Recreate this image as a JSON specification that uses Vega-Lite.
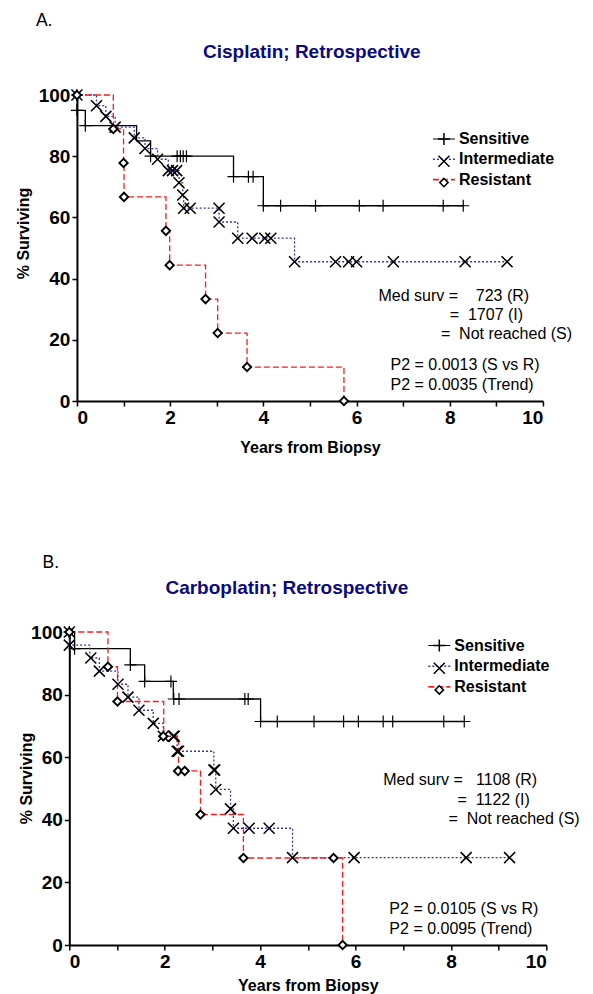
{
  "$schema": "https://vega.github.io/schema/vega-lite/v6.json",
  "background": "white",
  "padding": {"left": 15, "top": 11, "right": 5, "bottom": 2},
  "config": {
    "view": {"stroke": null},
    "font": "Liberation Sans",
    "axis": {"labelFont": "Liberation Sans", "labelFontSize": 19, "labelFontWeight": "bold", "labelColor": "black", "labelOverlap": false, "titleFont": "Liberation Sans", "titleFontSize": 16, "titleFontWeight": "bold", "titleColor": "black", "domainColor": "black", "domainWidth": 2, "tickColor": "black", "tickWidth": 1.5, "tickSize": 5, "labelPadding": 2, "grid": false}
  },
  "columns": 1,
  "spacing": 98,
  "center": true,
  "resolve": {"scale": {"color": "independent", "shape": "independent", "strokeDash": "independent", "strokeWidth": "independent"}, "legend": {"color": "independent", "shape": "independent", "strokeDash": "independent"}},
  "datasets": {
    "curvesA": [
      {"g": "Sensitive", "t": 0, "s": 100}, {"g": "Sensitive", "t": 0.01, "s": 95}, {"g": "Sensitive", "t": 0.18, "s": 90}, {"g": "Sensitive", "t": 1.28, "s": 85}, {"g": "Sensitive", "t": 1.58, "s": 80}, {"g": "Sensitive", "t": 3.36, "s": 73.3}, {"g": "Sensitive", "t": 4.0, "s": 63.8}, {"g": "Sensitive", "t": 8.29, "s": 63.8},
      {"g": "Intermediate", "t": 0, "s": 100}, {"g": "Intermediate", "t": 0.42, "s": 96.5}, {"g": "Intermediate", "t": 0.62, "s": 93}, {"g": "Intermediate", "t": 0.82, "s": 89.5}, {"g": "Intermediate", "t": 1.23, "s": 86}, {"g": "Intermediate", "t": 1.46, "s": 82.5}, {"g": "Intermediate", "t": 1.73, "s": 79}, {"g": "Intermediate", "t": 1.96, "s": 75.3}, {"g": "Intermediate", "t": 2.19, "s": 71.3}, {"g": "Intermediate", "t": 2.27, "s": 67.3}, {"g": "Intermediate", "t": 2.29, "s": 63}, {"g": "Intermediate", "t": 3.05, "s": 58.5}, {"g": "Intermediate", "t": 3.45, "s": 53.2}, {"g": "Intermediate", "t": 4.67, "s": 45.5}, {"g": "Intermediate", "t": 9.23, "s": 45.5},
      {"g": "Resistant", "t": 0, "s": 100}, {"g": "Resistant", "t": 0.78, "s": 88.9}, {"g": "Resistant", "t": 1.0, "s": 77.8}, {"g": "Resistant", "t": 1.01, "s": 66.7}, {"g": "Resistant", "t": 1.91, "s": 55.6}, {"g": "Resistant", "t": 1.99, "s": 44.4}, {"g": "Resistant", "t": 2.76, "s": 33.3}, {"g": "Resistant", "t": 3.02, "s": 22.2}, {"g": "Resistant", "t": 3.65, "s": 11.1}, {"g": "Resistant", "t": 5.73, "s": 0}
    ],
    "marksA": [
      {"g": "Sensitive", "t": 0, "s": 100}, {"g": "Sensitive", "t": 0, "s": 95}, {"g": "Sensitive", "t": 0.18, "s": 90}, {"g": "Sensitive", "t": 1.58, "s": 80}, {"g": "Sensitive", "t": 2.15, "s": 80}, {"g": "Sensitive", "t": 2.22, "s": 80}, {"g": "Sensitive", "t": 2.28, "s": 80}, {"g": "Sensitive", "t": 2.35, "s": 80}, {"g": "Sensitive", "t": 3.36, "s": 73.3}, {"g": "Sensitive", "t": 3.68, "s": 73.3}, {"g": "Sensitive", "t": 3.78, "s": 73.3}, {"g": "Sensitive", "t": 4.0, "s": 63.8}, {"g": "Sensitive", "t": 4.37, "s": 63.8}, {"g": "Sensitive", "t": 5.12, "s": 63.8}, {"g": "Sensitive", "t": 6.06, "s": 63.8}, {"g": "Sensitive", "t": 6.57, "s": 63.8}, {"g": "Sensitive", "t": 7.86, "s": 63.8}, {"g": "Sensitive", "t": 8.29, "s": 63.8},
      {"g": "Intermediate", "t": 0, "s": 100}, {"g": "Intermediate", "t": 0.42, "s": 96.5}, {"g": "Intermediate", "t": 0.62, "s": 93}, {"g": "Intermediate", "t": 0.82, "s": 89.5}, {"g": "Intermediate", "t": 1.23, "s": 86}, {"g": "Intermediate", "t": 1.46, "s": 82.5}, {"g": "Intermediate", "t": 1.73, "s": 79}, {"g": "Intermediate", "t": 1.96, "s": 75.3}, {"g": "Intermediate", "t": 2.05, "s": 75.3}, {"g": "Intermediate", "t": 2.14, "s": 75.3}, {"g": "Intermediate", "t": 2.19, "s": 71.3}, {"g": "Intermediate", "t": 2.27, "s": 67.3}, {"g": "Intermediate", "t": 2.29, "s": 63}, {"g": "Intermediate", "t": 2.43, "s": 63}, {"g": "Intermediate", "t": 3.05, "s": 63}, {"g": "Intermediate", "t": 3.05, "s": 58.5}, {"g": "Intermediate", "t": 3.45, "s": 53.2}, {"g": "Intermediate", "t": 3.76, "s": 53.2}, {"g": "Intermediate", "t": 4.03, "s": 53.2}, {"g": "Intermediate", "t": 4.16, "s": 53.2}, {"g": "Intermediate", "t": 4.67, "s": 45.5}, {"g": "Intermediate", "t": 5.55, "s": 45.5}, {"g": "Intermediate", "t": 5.83, "s": 45.5}, {"g": "Intermediate", "t": 6.0, "s": 45.5}, {"g": "Intermediate", "t": 6.79, "s": 45.5}, {"g": "Intermediate", "t": 8.33, "s": 45.5}, {"g": "Intermediate", "t": 9.23, "s": 45.5},
      {"g": "Resistant", "t": 0, "s": 100}, {"g": "Resistant", "t": 0.78, "s": 88.9}, {"g": "Resistant", "t": 1.0, "s": 77.8}, {"g": "Resistant", "t": 1.01, "s": 66.7}, {"g": "Resistant", "t": 1.91, "s": 55.6}, {"g": "Resistant", "t": 1.99, "s": 44.4}, {"g": "Resistant", "t": 2.76, "s": 33.3}, {"g": "Resistant", "t": 3.02, "s": 22.2}, {"g": "Resistant", "t": 3.65, "s": 11.1}, {"g": "Resistant", "t": 5.73, "s": 0}
    ],
    "curvesB": [
      {"g": "Sensitive", "t": 0, "s": 100}, {"g": "Sensitive", "t": 0.11, "s": 94.7}, {"g": "Sensitive", "t": 1.28, "s": 89.5}, {"g": "Sensitive", "t": 1.58, "s": 84.2}, {"g": "Sensitive", "t": 2.18, "s": 78.6}, {"g": "Sensitive", "t": 4.01, "s": 71.4}, {"g": "Sensitive", "t": 8.28, "s": 71.4},
      {"g": "Intermediate", "t": 0, "s": 100}, {"g": "Intermediate", "t": 0.01, "s": 95.8}, {"g": "Intermediate", "t": 0.43, "s": 91.7}, {"g": "Intermediate", "t": 0.63, "s": 87.5}, {"g": "Intermediate", "t": 1.02, "s": 83.3}, {"g": "Intermediate", "t": 1.23, "s": 79.2}, {"g": "Intermediate", "t": 1.46, "s": 75}, {"g": "Intermediate", "t": 1.76, "s": 70.8}, {"g": "Intermediate", "t": 1.97, "s": 66.7}, {"g": "Intermediate", "t": 2.26, "s": 61.9}, {"g": "Intermediate", "t": 3.03, "s": 55.9}, {"g": "Intermediate", "t": 3.07, "s": 49.7}, {"g": "Intermediate", "t": 3.38, "s": 43.5}, {"g": "Intermediate", "t": 3.44, "s": 37.3}, {"g": "Intermediate", "t": 4.68, "s": 27.9}, {"g": "Intermediate", "t": 9.23, "s": 27.9},
      {"g": "Resistant", "t": 0, "s": 100}, {"g": "Resistant", "t": 0.81, "s": 88.9}, {"g": "Resistant", "t": 1.01, "s": 77.8}, {"g": "Resistant", "t": 1.98, "s": 66.7}, {"g": "Resistant", "t": 2.29, "s": 55.6}, {"g": "Resistant", "t": 2.75, "s": 41.7}, {"g": "Resistant", "t": 3.65, "s": 27.8}, {"g": "Resistant", "t": 5.73, "s": 0}
    ],
    "marksB": [
      {"g": "Sensitive", "t": 0, "s": 100}, {"g": "Sensitive", "t": 0.11, "s": 94.7}, {"g": "Sensitive", "t": 1.28, "s": 89.5}, {"g": "Sensitive", "t": 1.58, "s": 84.2}, {"g": "Sensitive", "t": 2.13, "s": 84.2}, {"g": "Sensitive", "t": 2.19, "s": 78.6}, {"g": "Sensitive", "t": 2.3, "s": 78.6}, {"g": "Sensitive", "t": 3.68, "s": 78.6}, {"g": "Sensitive", "t": 3.75, "s": 78.6}, {"g": "Sensitive", "t": 4.01, "s": 71.4}, {"g": "Sensitive", "t": 4.36, "s": 71.4}, {"g": "Sensitive", "t": 5.13, "s": 71.4}, {"g": "Sensitive", "t": 5.75, "s": 71.4}, {"g": "Sensitive", "t": 6.06, "s": 71.4}, {"g": "Sensitive", "t": 6.58, "s": 71.4}, {"g": "Sensitive", "t": 6.78, "s": 71.4}, {"g": "Sensitive", "t": 7.85, "s": 71.4}, {"g": "Sensitive", "t": 8.28, "s": 71.4},
      {"g": "Intermediate", "t": 0, "s": 100}, {"g": "Intermediate", "t": 0, "s": 95.8}, {"g": "Intermediate", "t": 0.45, "s": 91.7}, {"g": "Intermediate", "t": 0.63, "s": 87.5}, {"g": "Intermediate", "t": 1.02, "s": 83.3}, {"g": "Intermediate", "t": 1.23, "s": 79.2}, {"g": "Intermediate", "t": 1.46, "s": 75}, {"g": "Intermediate", "t": 1.76, "s": 70.8}, {"g": "Intermediate", "t": 1.97, "s": 66.7}, {"g": "Intermediate", "t": 2.18, "s": 66.7}, {"g": "Intermediate", "t": 2.2, "s": 66.7}, {"g": "Intermediate", "t": 2.26, "s": 61.9}, {"g": "Intermediate", "t": 2.29, "s": 61.9}, {"g": "Intermediate", "t": 3.03, "s": 55.9}, {"g": "Intermediate", "t": 3.05, "s": 55.9}, {"g": "Intermediate", "t": 3.07, "s": 49.7}, {"g": "Intermediate", "t": 3.38, "s": 43.5}, {"g": "Intermediate", "t": 3.44, "s": 37.3}, {"g": "Intermediate", "t": 3.77, "s": 37.3}, {"g": "Intermediate", "t": 4.19, "s": 37.3}, {"g": "Intermediate", "t": 4.68, "s": 27.9}, {"g": "Intermediate", "t": 5.97, "s": 27.9}, {"g": "Intermediate", "t": 8.32, "s": 27.9}, {"g": "Intermediate", "t": 9.23, "s": 27.9},
      {"g": "Resistant", "t": 0, "s": 100}, {"g": "Resistant", "t": 0.81, "s": 88.9}, {"g": "Resistant", "t": 1.01, "s": 77.8}, {"g": "Resistant", "t": 1.97, "s": 66.7}, {"g": "Resistant", "t": 2.28, "s": 55.6}, {"g": "Resistant", "t": 2.42, "s": 55.6}, {"g": "Resistant", "t": 2.75, "s": 41.7}, {"g": "Resistant", "t": 3.65, "s": 27.8}, {"g": "Resistant", "t": 5.54, "s": 27.8}, {"g": "Resistant", "t": 5.73, "s": 0}
    ]
  },
  "concat": [
    {
      "width": 466,
      "height": 306,
      "layer": [
        {
          "data": {"name": "curvesA"},
          "mark": {"type": "line", "interpolate": "step-after", "strokeWidth": 1.3},
          "encoding": {
            "x": {"field": "t", "type": "quantitative", "title": "Years from Biopsy", "scale": {"domain": [0, 10], "nice": false}, "axis": {"values": [0, 1, 2, 3, 4, 5, 6, 7, 8, 9, 10], "labelExpr": "datum.value % 2 == 0 ? datum.label : ''", "labelOverlap": false, "titlePadding": 12}},
            "y": {"field": "s", "type": "quantitative", "title": "% Surviving", "scale": {"domain": [0, 100], "nice": false}, "axis": {"values": [0, 10, 20, 30, 40, 50, 60, 70, 80, 90, 100], "labelOverlap": false, "titlePadding": 7, "titleY": 138}},
            "color": {"field": "g", "type": "nominal", "scale": {"domain": ["Sensitive", "Intermediate", "Resistant"], "range": ["#000000", "#3535a8", "#ff1a1a"]}, "legend": {"title": null, "orient": "none", "legendX": 355, "legendY": 32, "symbolType": "stroke", "symbolSize": 484, "symbolStrokeWidth": 1.3, "labelFont": "Liberation Sans", "labelFontSize": 16, "labelFontWeight": "bold", "labelColor": "black", "labelOffset": 3, "rowPadding": 0.3, "padding": 0}},
            "strokeDash": {"field": "g", "type": "nominal", "scale": {"domain": ["Sensitive", "Intermediate", "Resistant"], "range": [[1, 0], [2, 2], [6, 3]]}, "legend": {"title": null, "orient": "none", "legendX": 355, "legendY": 32, "symbolType": "stroke", "symbolSize": 484, "symbolStrokeWidth": 1.3, "labelFont": "Liberation Sans", "labelFontSize": 16, "labelFontWeight": "bold", "labelColor": "black", "labelOffset": 3, "rowPadding": 0.3, "padding": 0}}
          }
        },
        {
          "data": {"name": "marksA"},
          "mark": {"type": "point", "filled": false, "fill": "white", "size": 484, "opacity": 1},
          "encoding": {
            "x": {"field": "t", "type": "quantitative"},
            "y": {"field": "s", "type": "quantitative"},
            "color": {"value": "black"},
            "strokeWidth": {"field": "g", "type": "nominal", "scale": {"domain": ["Sensitive", "Intermediate", "Resistant"], "range": [1.2, 1.9, 1.1]}, "legend": null},
            "shape": {"field": "g", "type": "nominal", "sort": ["Sensitive", "Intermediate", "Resistant"], "scale": {"range": ["M-0.55,0H0.55M0,-0.55V0.55", "M-0.5,-0.5L0.5,0.5M-0.5,0.5L0.5,-0.5", "M0,-0.38L0.38,0L0,0.38L-0.38,0Z"]}, "legend": {"title": null, "orient": "none", "legendX": 355, "legendY": 32, "symbolSize": 484, "symbolStrokeWidth": 1.5, "labelFont": "Liberation Sans", "labelFontSize": 16, "labelFontWeight": "bold", "labelExpr": "''", "labelOffset": 3, "rowPadding": 0.3, "padding": 0}}
          }
        },
        {
          "data": {"values": [{"label": "A."}]},
          "mark": {"type": "text", "align": "left", "baseline": "alphabetic", "font": "Liberation Sans", "fontSize": 17.5, "color": "black"},
          "encoding": {"x": {"datum": -0.88}, "y": {"datum": 122.6}, "text": {"field": "label"}}
        },
        {
          "data": {"values": [{"label": "Cisplatin; Retrospective"}]},
          "mark": {"type": "text", "align": "center", "baseline": "alphabetic", "font": "Liberation Sans", "fontSize": 19, "fontWeight": "bold", "color": "#0a0a80"},
          "encoding": {"x": {"datum": 5.04}, "y": {"datum": 112.2}, "text": {"field": "label"}}
        },
        {
          "data": {"values": [{"label": "Med surv =\u00a0\u00a0\u00a0 723 (R)"}]},
          "mark": {"type": "text", "align": "left", "baseline": "middle", "font": "Liberation Sans", "fontSize": 16, "color": "black"},
          "encoding": {"x": {"datum": 6.47}, "y": {"datum": 34.2}, "text": {"field": "label"}}
        },
        {
          "data": {"values": [{"label": "=\u00a0 1707 (I)"}]},
          "mark": {"type": "text", "align": "left", "baseline": "middle", "font": "Liberation Sans", "fontSize": 16, "color": "black"},
          "encoding": {"x": {"datum": 8.0}, "y": {"datum": 28.0}, "text": {"field": "label"}}
        },
        {
          "data": {"values": [{"label": "=\u00a0 Not reached (S)"}]},
          "mark": {"type": "text", "align": "left", "baseline": "middle", "font": "Liberation Sans", "fontSize": 16, "color": "black"},
          "encoding": {"x": {"datum": 7.81}, "y": {"datum": 21.8}, "text": {"field": "label"}}
        },
        {
          "data": {"values": [{"label": "P2 = 0.0013 (S vs R)"}]},
          "mark": {"type": "text", "align": "left", "baseline": "middle", "font": "Liberation Sans", "fontSize": 16, "color": "black"},
          "encoding": {"x": {"datum": 6.73}, "y": {"datum": 11.7}, "text": {"field": "label"}}
        },
        {
          "data": {"values": [{"label": "P2 = 0.0035 (Trend)"}]},
          "mark": {"type": "text", "align": "left", "baseline": "middle", "font": "Liberation Sans", "fontSize": 16, "color": "black"},
          "encoding": {"x": {"datum": 6.73}, "y": {"datum": 5.1}, "text": {"field": "label"}}
        }
      ]
    },
    {
      "width": 477,
      "height": 313,
      "layer": [
        {
          "data": {"name": "curvesB"},
          "mark": {"type": "line", "interpolate": "step-after", "strokeWidth": 1.3},
          "encoding": {
            "x": {"field": "t", "type": "quantitative", "title": "Years from Biopsy", "scale": {"domain": [0, 10], "nice": false}, "axis": {"values": [0, 1, 2, 3, 4, 5, 6, 7, 8, 9, 10], "labelExpr": "datum.value % 2 == 0 ? datum.label : ''", "labelOverlap": false, "titlePadding": 6}},
            "y": {"field": "s", "type": "quantitative", "title": "% Surviving", "scale": {"domain": [0, 100], "nice": false}, "axis": {"values": [0, 10, 20, 30, 40, 50, 60, 70, 80, 90, 100], "labelOverlap": false, "titlePadding": -4, "titleY": 146}},
            "color": {"field": "g", "type": "nominal", "scale": {"domain": ["Sensitive", "Intermediate", "Resistant"], "range": ["#000000", "#3535a8", "#ff1a1a"]}, "legend": {"title": null, "orient": "none", "legendX": 358, "legendY": 1.5, "symbolType": "stroke", "symbolSize": 484, "symbolStrokeWidth": 1.3, "labelFont": "Liberation Sans", "labelFontSize": 16, "labelFontWeight": "bold", "labelColor": "black", "labelOffset": 3, "rowPadding": 0.7, "padding": 0}},
            "strokeDash": {"field": "g", "type": "nominal", "scale": {"domain": ["Sensitive", "Intermediate", "Resistant"], "range": [[1, 0], [2, 2], [6, 3]]}, "legend": {"title": null, "orient": "none", "legendX": 358, "legendY": 1.5, "symbolType": "stroke", "symbolSize": 484, "symbolStrokeWidth": 1.3, "labelFont": "Liberation Sans", "labelFontSize": 16, "labelFontWeight": "bold", "labelColor": "black", "labelOffset": 3, "rowPadding": 0.7, "padding": 0}}
          }
        },
        {
          "data": {"name": "marksB"},
          "mark": {"type": "point", "filled": false, "fill": "white", "size": 484, "opacity": 1},
          "encoding": {
            "x": {"field": "t", "type": "quantitative"},
            "y": {"field": "s", "type": "quantitative"},
            "color": {"value": "black"},
            "strokeWidth": {"field": "g", "type": "nominal", "scale": {"domain": ["Sensitive", "Intermediate", "Resistant"], "range": [1.2, 1.9, 1.1]}, "legend": null},
            "shape": {"field": "g", "type": "nominal", "sort": ["Sensitive", "Intermediate", "Resistant"], "scale": {"range": ["M-0.55,0H0.55M0,-0.55V0.55", "M-0.5,-0.5L0.5,0.5M-0.5,0.5L0.5,-0.5", "M0,-0.38L0.38,0L0,0.38L-0.38,0Z"]}, "legend": {"title": null, "orient": "none", "legendX": 358, "legendY": 1.5, "symbolSize": 484, "symbolStrokeWidth": 1.5, "labelFont": "Liberation Sans", "labelFontSize": 16, "labelFontWeight": "bold", "labelExpr": "''", "labelOffset": 3, "rowPadding": 0.7, "padding": 0}}
          }
        },
        {
          "data": {"values": [{"label": "B."}]},
          "mark": {"type": "text", "align": "left", "baseline": "alphabetic", "font": "Liberation Sans", "fontSize": 17.5, "color": "black"},
          "encoding": {"x": {"datum": -0.56}, "y": {"datum": 120.5}, "text": {"field": "label"}}
        },
        {
          "data": {"values": [{"label": "Carboplatin; Retrospective"}]},
          "mark": {"type": "text", "align": "center", "baseline": "alphabetic", "font": "Liberation Sans", "fontSize": 19, "fontWeight": "bold", "color": "#0a0a80"},
          "encoding": {"x": {"datum": 4.56}, "y": {"datum": 112.2}, "text": {"field": "label"}}
        },
        {
          "data": {"values": [{"label": "Med surv =\u00a0\u00a0 1108 (R)"}]},
          "mark": {"type": "text", "align": "left", "baseline": "middle", "font": "Liberation Sans", "fontSize": 16, "color": "black"},
          "encoding": {"x": {"datum": 6.58}, "y": {"datum": 52.8}, "text": {"field": "label"}}
        },
        {
          "data": {"values": [{"label": "=\u00a0 1122 (I)"}]},
          "mark": {"type": "text", "align": "left", "baseline": "middle", "font": "Liberation Sans", "fontSize": 16, "color": "black"},
          "encoding": {"x": {"datum": 8.14}, "y": {"datum": 46.4}, "text": {"field": "label"}}
        },
        {
          "data": {"values": [{"label": "=\u00a0 Not reached (S)"}]},
          "mark": {"type": "text", "align": "left", "baseline": "middle", "font": "Liberation Sans", "fontSize": 16, "color": "black"},
          "encoding": {"x": {"datum": 7.95}, "y": {"datum": 40.4}, "text": {"field": "label"}}
        },
        {
          "data": {"values": [{"label": "P2 = 0.0105 (S vs R)"}]},
          "mark": {"type": "text", "align": "left", "baseline": "middle", "font": "Liberation Sans", "fontSize": 16, "color": "black"},
          "encoding": {"x": {"datum": 6.71}, "y": {"datum": 11.6}, "text": {"field": "label"}}
        },
        {
          "data": {"values": [{"label": "P2 = 0.0095 (Trend)"}]},
          "mark": {"type": "text", "align": "left", "baseline": "middle", "font": "Liberation Sans", "fontSize": 16, "color": "black"},
          "encoding": {"x": {"datum": 6.71}, "y": {"datum": 5.2}, "text": {"field": "label"}}
        }
      ]
    }
  ]
}
